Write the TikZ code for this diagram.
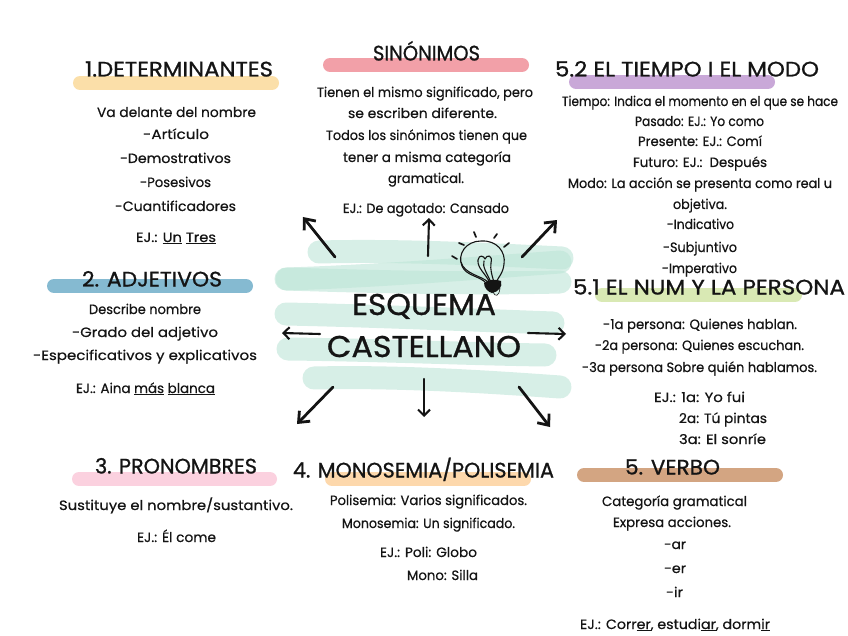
\documentclass[tikz,border=0pt]{standalone}
\usepackage{fontspec}
\usepackage{graphicx}
\setmainfont{Poppins}
\newfontfamily\handbody{Poppins}[FakeBold=0.5]
\newfontfamily\handhead{Poppins}[FakeBold=0.9]
\usetikzlibrary{arrows.meta}
\definecolor{ink}{HTML}{141414}
\definecolor{mint}{HTML}{BDE5D7}
\definecolor{barYellow}{HTML}{FBDFA9}
\definecolor{barBlue}{HTML}{85BAD1}
\definecolor{barPink}{HTML}{FBD1DF}
\definecolor{barApricot}{HTML}{FDD8AC}
\definecolor{barBrown}{HTML}{D3A582}
\definecolor{barLime}{HTML}{D9E9B4}
\definecolor{barPurple}{HTML}{C9A8D8}
\definecolor{barRose}{HTML}{F2A0A8}
\tikzset{
  txt/.style={inner sep=0pt,outer sep=0pt,anchor=base,text=ink,font=\handbody\fontsize{13.5}{15}\selectfont},
  headtxt/.style={inner sep=0pt,outer sep=0pt,anchor=base,text=ink,font=\handhead\fontsize{21}{24}\selectfont},
  bigtxt/.style={inner sep=0pt,outer sep=0pt,anchor=base,text=ink,font=\handhead\fontsize{30}{34}\selectfont},
  brush/.style={line cap=round,line width=23pt,draw=mint,opacity=.6},
  bar/.style={line cap=round,line width=14pt},
  pointer/.style={draw=ink,line width=2.8pt,line cap=round,-{Straight Barb[length=9pt,width=15pt,line width=2.8pt]}},
  pointerthin/.style={draw=ink,line width=2.1pt,line cap=round,-{Straight Barb[length=6pt,width=12pt,line width=2.1pt]}},
  bulb/.style={draw=ink,line width=1.1pt,line cap=round,line join=round},
  ray/.style={draw=ink,line width=1.7pt,line cap=round}
}
\newcommand\tl[5]{\node[txt] (#1) at ({(#2+#3)/2},{#4+5}) {\resizebox{\dimexpr #3pt-#2pt\relax}{\height}{#5}};}
\newcommand\hl[5]{\node[headtxt] (#1) at ({(#2+#3)/2},{#4+8.5}) {\resizebox{\dimexpr #3pt-#2pt\relax}{\height}{#5}};}
\begin{document}
\begin{tikzpicture}[x=1pt,y=-1pt]
\useasboundingbox (0,0) rectangle (848,636);
\fill[white] (0,0) rectangle (848,636);
% green brush strokes
\draw[brush] (319,252) .. controls (400,250) and (480,254) .. (562,258);
\draw[brush] (287,279) .. controls (380,276) and (480,268) .. (560,262);
\draw[brush] (286,279) .. controls (380,282) and (480,284) .. (560,282);
\draw[brush] (286,314) .. controls (380,316) and (470,320) .. (553,323);
\draw[brush] (288,349) .. controls (380,350) and (470,354) .. (545,355);
\draw[brush] (314,378) .. controls (400,376) and (490,382) .. (560,387);
% heading bars
\draw[bar,draw=barYellow] (80,83) -- (272,83);
\draw[bar,draw=barBlue] (54,286) -- (246,286);
\draw[bar,draw=barPink] (79,479) -- (270,479);
\draw[bar,draw=barApricot] (332,479) -- (524,479);
\draw[bar,draw=barBrown] (584,475) -- (776,475);
\draw[bar,draw=barLime] (602,295) -- (795,295);
\draw[bar,draw=barPurple] (576,82) -- (768,82);
\draw[bar,draw=barRose] (330,65) -- (522,65);
% lamp
\draw[bulb] (486,283) .. controls (480,276) and (466,276) .. (462,266)
  .. controls (457,254) and (466,241) .. (481,241)
  .. controls (497,240) and (506,252) .. (504,264)
  .. controls (503,274) and (498,277) .. (496,283);
\draw[bulb] (488,282) .. controls (482,276) and (464,274) .. (461,262);
\draw[bulb] (490,283) .. controls (486,274) and (477,268) .. (478,260)
  .. controls (479,254) and (484,256) .. (485,259)
  .. controls (487,254) and (493,255) .. (491,263)
  .. controls (490,269) and (492,276) .. (494,282);
\draw[bulb] (484,261) .. controls (482,266) and (487,274) .. (491,282);
\fill[ink] (484,283) .. controls (488,279) and (496,279) .. (501,281)
  .. controls (503,287) and (498,292) .. (492,293)
  .. controls (488,292) and (484,288) .. (484,283) -- cycle;
\draw[bulb,line width=.6pt] (493,292) .. controls (495,297) and (499,297) .. (500,288);
\draw[ray] (452,256) -- (457,259);
\draw[ray] (459,243) -- (464,245);
\draw[ray] (474,232) -- (476,237);
\draw[ray] (497,234) -- (494,238);
\draw[ray] (509,243) -- (504,247);
% arrows
\coordinate (a1s) at (335,257); \coordinate (a1e) at (303,217);
\coordinate (a2s) at (428,256); \coordinate (a2e) at (429,218);
\coordinate (a3s) at (522,257); \coordinate (a3e) at (557,220);
\coordinate (a4s) at (320,334); \coordinate (a4e) at (282,333);
\coordinate (a5s) at (528,333); \coordinate (a5e) at (566,334);
\coordinate (a6s) at (333,387); \coordinate (a6e) at (297,424);
\coordinate (a7s) at (424,379); \coordinate (a7e) at (424,417);
\coordinate (a8s) at (519,387); \coordinate (a8e) at (550,427);
\draw[pointer] (a1s) -- (a1e);
\draw[pointerthin] (a2s) -- (a2e);
\draw[pointer] (a3s) -- (a3e);
\draw[pointerthin] (a4s) -- (a4e);
\draw[pointerthin] (a5s) -- (a5e);
\draw[pointer] (a6s) -- (a6e);
\draw[pointerthin] (a7s) -- (a7e);
\draw[pointer] (a8s) -- (a8e);
% centre
\node[bigtxt] (esq) at (424,315) {\resizebox{144pt}{\height}{ESQUEMA}};
\node[bigtxt] (cas) at (424,357) {\resizebox{194pt}{\height}{CASTELLANO}};
% headings
\hl{h1}{85}{273}{68}{1.DETERMINANTES}
\hl{h2}{82}{222}{278}{2. ADJETIVOS}
\hl{h3}{95}{257}{465}{3. PRONOMBRES}
\hl{h4}{293}{554}{469}{4. MONOSEMIA/POLISEMIA}
\hl{h5}{625}{720}{466}{5. VERBO}
\hl{h51}{573}{845}{286}{5.1 EL NUM Y LA PERSONA}
\hl{h52}{555}{819}{68}{5.2 EL TIEMPO I EL MODO}
\hl{h0}{373}{480}{52}{SINÓNIMOS}
% 1
\tl{t1a}{97}{256}{112}{Va delante del nombre}
\tl{t1b}{143}{209}{134}{-Artículo}
\tl{t1c}{120}{231}{158}{-Demostrativos}
\tl{t1d}{140}{211}{182}{-Posesivos}
\tl{t1e}{115}{236}{206}{-Cuantificadores}
\tl{t1f}{136}{216}{237}{EJ.: \underline{Un} \underline{Tres}}
% 2
\tl{t2a}{89}{201}{309}{Describe nombre}
\tl{t2b}{72}{218}{332}{-Grado del adjetivo}
\tl{t2c}{33}{257}{355}{-Especificativos y explicativos}
\tl{t2d}{76}{215}{388}{EJ.: Aina \underline{más} \underline{blanca}}
% 3
\tl{t3a}{59}{293}{505}{Sustituye el nombre/sustantivo.}
\tl{t3b}{137}{216}{537}{EJ.: Él come}
% 4
\tl{t4a}{330}{527}{500}{Polisemia: Varios significados.}
\tl{t4b}{342}{515}{523}{Monosemia: Un significado.}
\tl{t4c}{380}{477}{552}{EJ.: Poli: Globo}
\tl{t4d}{407}{478}{575}{Mono: Silla}
% 5
\tl{t5a}{602}{747}{501}{Categoría gramatical}
\tl{t5b}{613}{731}{522}{Expresa acciones.}
\tl{t5c}{664}{686}{544}{-ar}
\tl{t5d}{664}{686}{568}{-er}
\tl{t5e}{666}{683}{592}{-ir}
\tl{t5f}{580}{770}{624}{EJ.: Corr\underline{er}, estudi\underline{ar}, dorm\underline{ir}}
% 5.1
\tl{t51a}{603}{797}{324}{-1a persona: Quienes hablan.}
\tl{t51b}{595}{804}{345}{-2a persona: Quienes escuchan.}
\tl{t51c}{582}{817}{367}{-3a persona Sobre quién hablamos.}
\tl{t51d}{654}{745}{397}{EJ.: 1a: Yo fui}
\tl{t51e}{679}{767}{418}{2a: Tú pintas}
\tl{t51f}{679}{766}{439}{3a: El sonríe}
% 5.2
\tl{t52a}{562}{838}{101}{Tiempo: Indica el momento en el que se hace}
\tl{t52b}{635}{764}{121}{Pasado: EJ.: Yo como}
\tl{t52c}{638}{762}{141}{Presente: EJ.: Comí}
\tl{t52d}{633}{767}{162}{Futuro: EJ.:\ \ Después}
\tl{t52e}{568}{832}{183}{Modo: La acción se presenta como real u}
\tl{t52f}{673}{727}{204}{objetiva.}
\tl{t52g}{667}{734}{224}{-Indicativo}
\tl{t52h}{663}{737}{247}{-Subjuntivo}
\tl{t52i}{662}{737}{268}{-Imperativo}
% sinonimos
\tl{t0a}{317}{533}{92}{Tienen el mismo significado, pero}
\tl{t0b}{348}{497}{113}{se escriben diferente.}
\tl{t0c}{326}{527}{135}{Todos los sinónimos tienen que}
\tl{t0d}{343}{511}{157}{tener a misma categoría}
\tl{t0e}{388}{464}{178}{gramatical.}
\tl{t0f}{343}{509}{208}{EJ.: De agotado: Cansado}
\end{tikzpicture}
\end{document}
